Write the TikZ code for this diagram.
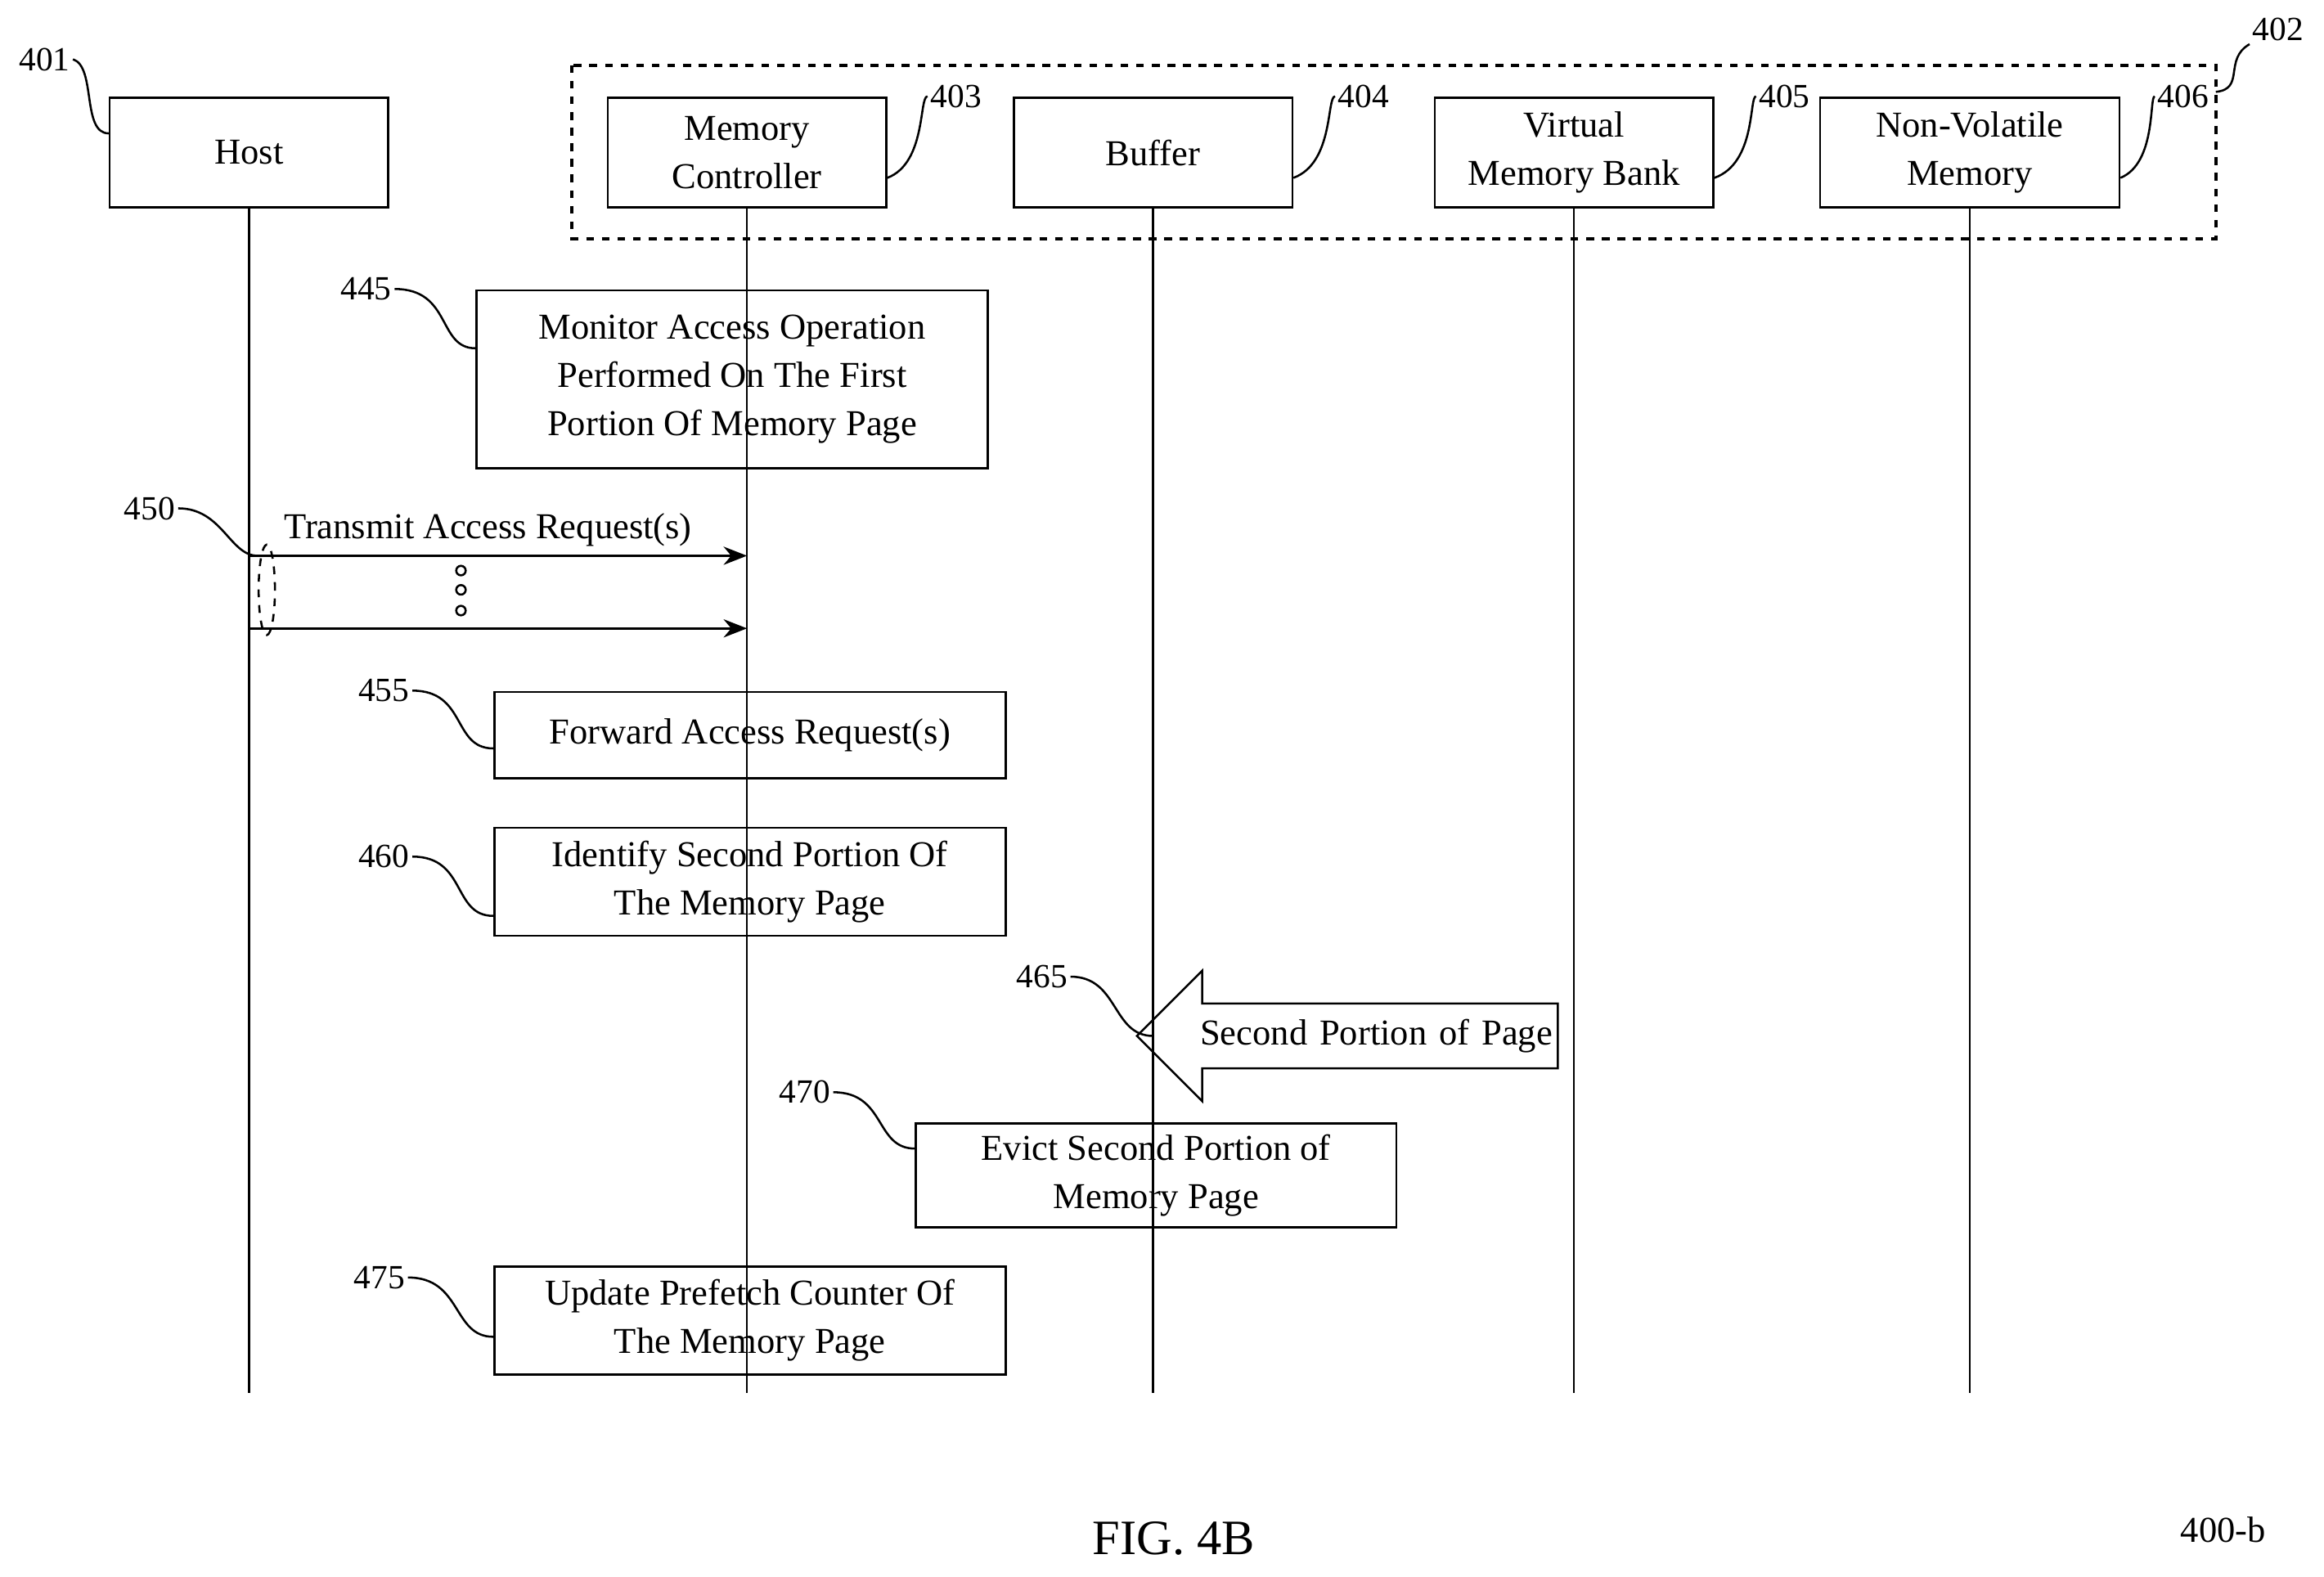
\documentclass[tikz,border=0pt]{standalone}
\usepackage{fontspec}
\setmainfont{Liberation Serif}
\usetikzlibrary{arrows.meta,shapes.arrows,shapes.geometric}
\tikzstyle{ent}=[draw, thick, minimum width=3.76cm, minimum height=1.48cm,
	align=center, inner sep=1pt]
\tikzstyle{act}=[draw, thick, align=center, inner sep=1pt]
\tikzstyle{num}=[font=\fontsize{13}{15}\selectfont, inner sep=1pt]
\tikzstyle{life}=[draw, thick]
\tikzstyle{lead}=[draw, thick]
\tikzstyle{msg}=[draw, thick, -{Stealth[length=9pt,width=7pt]}]
\newcommand{\ent}[3]{\node (#1) [ent] at (#2,103) {#3};}
\newcommand{\stepbox}[6]{\node (#1) [act, minimum width=#4*0.02cm,
	minimum height=#5*0.02cm] at (#2,#3) {#6};}

\begin{document}
\begin{tikzpicture}[x=0.02cm, y=-0.02cm, font=\fontsize{14}{18.5}\selectfont]
	\useasboundingbox (0,0) rectangle (1568,1064);

	% participants
	\ent{host}{168}{Host}
	\ent{mc}{504}{Memory\\Controller}
	\ent{buf}{778}{Buffer}
	\ent{vmb}{1062}{Virtual\\Memory Bank}
	\node (nvm) [ent, minimum width=4.04cm] at (1329,103) {Non-Volatile\\Memory};
	\draw [very thick, dashed] (386,44) rectangle (1495,161);

	% lifelines
	\foreach \p/\x in {host/168, mc/504, buf/778, vmb/1062, nvm/1329}
		{\coordinate (e\p) at (\x,940);
		 \path [life] (\p.south) -- (e\p);}

	% steps
	\stepbox{s445}{494}{256}{345}{120}{Monitor Access Operation\\Performed On The First\\Portion Of Memory Page}
	\stepbox{s455}{506}{496}{345}{58}{Forward Access Request(s)}
	\stepbox{s460}{506}{595}{345}{73}{Identify Second Portion Of\\The Memory Page}
	\stepbox{s470}{780}{793}{324}{70}{Evict Second Portion of\\Memory Page}
	\stepbox{s475}{506}{891}{345}{73}{Update Prefetch Counter Of\\The Memory Page}

	% access requests
	\coordinate (h1) at (168,375); \coordinate (m1) at (504,375);
	\coordinate (h2) at (168,424); \coordinate (m2) at (504,424);
	\path [msg] (h1) -- node [above, pos=0.48] {Transmit Access Request(s)} (m1);
	\path [msg] (h2) -- (m2);
	\foreach \y in {385,398,412}
		\draw [thick] (311,\y) circle (3.2);
	\node (grp) [draw, thick, dashed, ellipse, minimum width=0.22cm,
		minimum height=1.22cm, inner sep=0pt] at (180,398) {};

	% data transfer
	\node (xfer) [draw, thick, single arrow, shape border rotate=180,
		minimum height=5.68cm, minimum width=1.76cm, single arrow head extend=0.28cm,
		single arrow tip angle=90, inner sep=1pt, text width=5.1cm, align=right]
		at (920,699) {Second Portion of Page};

	% reference numerals
	\node (n401) [num] at (30,40) {401};
	\node (n402) [num] at (1537,20) {402};
	\node (n403) [num] at (645,65) {403};
	\node (n404) [num] at (920,65) {404};
	\node (n405) [num] at (1204,65) {405};
	\node (n406) [num] at (1473,65) {406};
	\node (n445) [num] at (247,195) {445};
	\node (n450) [num] at (101,343) {450};
	\node (n455) [num] at (259,466) {455};
	\node (n460) [num] at (259,578) {460};
	\node (n465) [num] at (703,659) {465};
	\node (n470) [num] at (543,737) {470};
	\node (n475) [num] at (256,862) {475};

	\path [lead] (n401.east) .. controls (65,45) and (55,90) .. (host.west |- 0,90);
	\path [lead] (n402.south west) .. controls (1500,40) and (1515,60) .. (1495,62);
	\path [lead] (n403.west) .. controls (620,65) and (625,110) .. (mc.east |- 0,120);
	\path [lead] (n404.west) .. controls (895,65) and (900,110) .. (buf.east |- 0,120);
	\path [lead] (n405.west) .. controls (1180,65) and (1185,110) .. (vmb.east |- 0,120);
	\path [lead] (n406.west) .. controls (1450,65) and (1455,110) .. (nvm.east |- 0,120);
	\path [lead] (n445.east) .. controls (305,195) and (295,235) .. (s445.west |- 0,235);
	\path [lead] (n450.east) .. controls (150,343) and (155,375) .. (grp.west |- 0,375);
	\path [lead] (n455.east) .. controls (315,466) and (305,505) .. (s455.west |- 0,505);
	\path [lead] (n460.east) .. controls (315,578) and (305,618) .. (s460.west |- 0,618);
	\path [lead] (n465.east) .. controls (755,659) and (750,699) .. (778,699);
	\path [lead] (n470.east) .. controls (598,737) and (590,775) .. (s470.west |- 0,775);
	\path [lead] (n475.east) .. controls (312,862) and (305,902) .. (s475.west |- 0,902);

	% caption
	\node (cap) [font=\fontsize{19}{22}\selectfont] at (792,1038) {FIG. 4B};
	\node (fig) [num, font=\fontsize{14}{16}\selectfont] at (1500,1032) {400-b};
	\path [thick, -{Stealth[length=8pt,width=7pt]}] (fig.west) .. controls (1440,1032) and (1425,1025) .. (1410,1008);
\end{tikzpicture}
\end{document}
